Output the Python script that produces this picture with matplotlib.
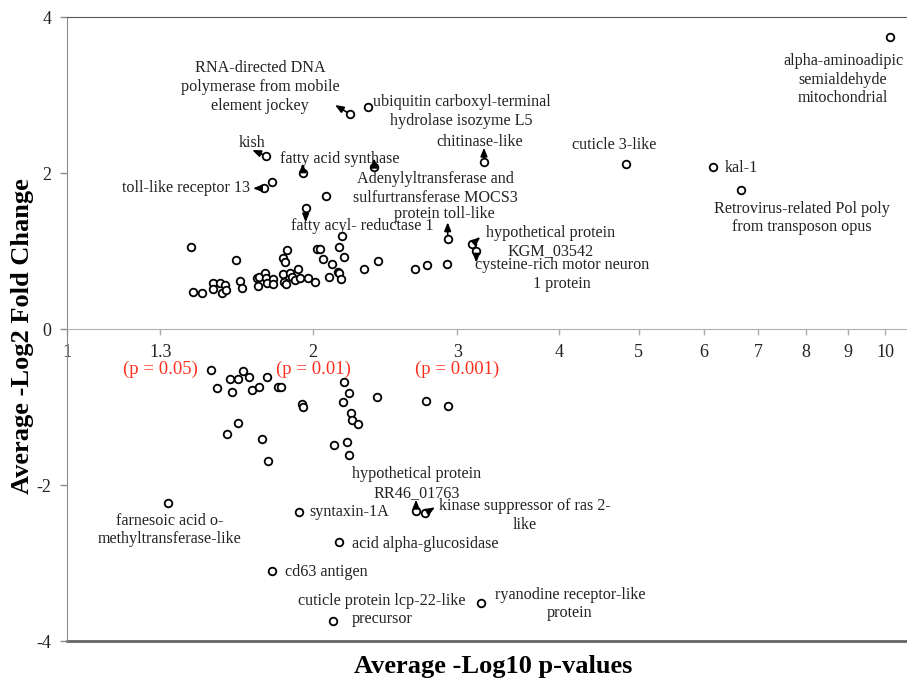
import numpy as np
import matplotlib
matplotlib.use("Agg")
import matplotlib.pyplot as plt

# unlabeled genes, up-regulated (avg -log10 p, avg -log2 fold change)
up_p = [1.417, 1.609, 1.427, 1.461, 1.510, 1.510, 1.538, 1.546, 1.560, 1.563,
        1.627, 1.635, 1.706, 1.718, 1.748, 1.751, 1.713, 1.754, 1.784, 1.787,
        1.838, 1.847, 1.859, 1.838, 1.844, 1.852, 1.874, 1.882, 1.900, 1.918,
        1.927, 1.972, 2.010, 2.020, 2.038, 2.058, 2.107, 2.093, 2.146, 2.151,
        2.163, 2.151, 2.183, 2.167, 2.307, 2.400, 2.667, 2.751, 2.915, 2.073,
        1.782]
up_fc = [1.055, 0.885, 0.478, 0.458, 0.586, 0.509, 0.594, 0.465, 0.564, 0.500,
         0.615, 0.522, 0.650, 0.671, 0.714, 0.658, 0.551, 0.586, 0.637, 0.577,
         0.906, 0.853, 1.013, 0.701, 0.606, 0.573, 0.714, 0.673, 0.628, 0.765,
         0.650, 0.658, 0.606, 1.026, 1.022, 0.894, 0.833, 0.671, 0.735, 0.712,
         0.637, 1.055, 0.927, 1.192, 0.765, 0.876, 0.765, 0.817, 0.833, 1.709,
         1.888]

# unlabeled genes, down-regulated
down_p = [1.500, 1.524, 1.582, 1.617, 1.641, 1.669, 1.589, 1.685, 1.717, 1.754,
          1.813, 1.825, 1.938, 1.945, 2.183, 2.214, 2.177, 2.222, 2.232, 2.267,
          2.393, 2.747, 2.923, 1.618, 1.568, 1.730, 1.759, 2.119, 2.198, 2.214]
down_fc = [-0.526, -0.760, -0.641, -0.641, -0.538, -0.619, -0.812, -0.786, -0.744, -0.619,
           -0.740, -0.747, -0.962, -0.996, -0.676, -0.824, -0.940, -1.081, -1.167, -1.222,
           -0.868, -0.927, -0.991, -1.201, -1.346, -1.414, -1.688, -1.487, -1.449, -1.615]

# named genes
names = [
    "RNA-directed DNA\npolymerase from mobile\nelement jockey",
    "ubiquitin carboxyl-terminal\nhydrolase isozyme L5",
    "kish",
    "fatty acid synthase",
    "toll-like receptor 13",
    "fatty acyl- reductase 1",
    "Adenylyltransferase and\nsulfurtransferase MOCS3",
    "protein toll-like",
    "chitinase-like",
    "hypothetical protein\nKGM_03542",
    "cysteine-rich motor neuron\n1 protein",
    "cuticle 3-like",
    "kal-1",
    "Retrovirus-related Pol poly\nfrom transposon opus",
    "alpha-aminoadipic\nsemialdehyde\nmitochondrial",
    "farnesoic acid o-\nmethyltransferase-like",
    "syntaxin-1A",
    "hypothetical protein\nRR46_01763",
    "kinase suppressor of ras 2-\nlike",
    "acid alpha-glucosidase",
    "cd63 antigen",
    "cuticle protein lcp-22-like\nprecursor",
    "ryanodine receptor-like\nprotein",
]
named_p = [2.218, 2.331, 1.752, 1.942, 1.741, 1.958, 2.375, 2.920, 3.234, 3.130,
           3.165, 4.819, 6.157, 6.673, 10.14, 1.329, 1.921, 2.671, 2.739, 2.151,
           1.781, 2.114, 3.207]
named_fc = [2.756, 2.842, 2.218, 1.996, 1.804, 1.547, 2.081, 1.150, 2.145, 1.090,
            1.004, 2.115, 2.081, 1.782, 3.747, -2.231, -2.346, -2.329, -2.363, -2.731,
            -3.103, -3.744, -3.513]

x_ticks = [1, 1.3, 2, 3, 4, 5, 6, 7, 8, 9, 10]
x_tick_labels = ["1", "1.3", "2", "3", "4", "5", "6", "7", "8", "9", "10"]
y_ticks = [-4, -2, 0, 2, 4]
p_marks = [1.3, 2, 3]
p_mark_labels = ["(p = 0.05)", "(p = 0.01)", "(p = 0.001)"]

# label placement: offset in pixels from the point (dx, dy, ha)
label_pos = {
    0: (-90, 27, "center"), 1: (94, -4, "center"), 2: (-14, 13, "center"),
    3: (37, 14, "center"), 4: (-14, 0, "right"), 5: (57, -18, "center"),
    6: (61, -22, "center"), 7: (-3, 25, "center"), 8: (-4, 20, "center"),
    9: (78, 2, "center"), 10: (86, -24, "center"), 11: (-11, 19, "center"),
    12: (12, -1, "left"), 13: (61, -28, "center"), 14: (-47, -43, "center"),
    15: (2, -27, "center"), 16: (10, 0, "left"), 17: (1, 27, "center"),
    18: (100, -2, "center"), 19: (13, -2, "left"), 20: (13, -1, "left"),
    21: (49, 11, "center"), 22: (89, -1, "center"),
}
# short arrow stubs (tip offset in pixels)
arrows = {0: (-15, 9), 2: (-14, 6), 4: (-11, 0), 3: (0, 10), 5: (0, -14),
          6: (0, 8), 8: (0, 14), 7: (0, 17), 9: (8, 7), 10: (0, -12),
          17: (0, 11), 18: (10, 6)}

plt.rcParams['font.family'] = ['Liberation Serif', 'DejaVu Serif']

fig = plt.figure(figsize=(9.07, 6.83), dpi=100)
ax = fig.add_axes([67 / 907, 42 / 683, 840 / 907, 624 / 683])

ax.set_xscale('log')
ax.set_xlim(1, 10 ** (840 / 818))
ax.set_ylim(-4, 4)

gray = '#8c8c8c'
ax.spines['right'].set_visible(False)
ax.spines['top'].set_color('#555555')
ax.spines['left'].set_color(gray)
ax.spines['bottom'].set_position(('data', 0))
ax.spines['bottom'].set_color('#b0b0b0')
ax.axhline(-4, color='#666666', lw=2, clip_on=False, zorder=1)

ax.set_xticks(x_ticks)
ax.set_xticklabels(x_tick_labels)
ax.xaxis.set_minor_locator(matplotlib.ticker.NullLocator())
ax.set_yticks(y_ticks)
ax.set_yticklabels([str(v) for v in y_ticks])
ax.tick_params(axis='x', direction='out', length=4, width=1, color='#b0b0b0',
               pad=7, labelsize=13, labelcolor='#222222')
ax.tick_params(axis='y', direction='out', length=5, width=1, color=gray,
               pad=6, labelsize=13, labelcolor='#222222')

for xm, lab in zip(p_marks, p_mark_labels):
    ax.text(xm, -0.513, lab, color='#ff3020', fontsize=13.5, ha='center', va='center')

mk = dict(s=30, facecolors='white', edgecolors='black', linewidths=1.3, zorder=3)
ax.scatter(up_p, up_fc, **mk)
ax.scatter(down_p, down_fc, **mk)
ax.scatter(named_p, named_fc, **mk)

for i, name in enumerate(names):
    dx, dy, ha = label_pos[i]
    ax.annotate(name, (named_p[i], named_fc[i]), xytext=(dx, dy),
                textcoords='offset pixels', ha=ha, va='center',
                multialignment='center', fontsize=11.6, color='#222222',
                linespacing=1.22)
for i, (dx, dy) in arrows.items():
    ax.annotate('', (named_p[i], named_fc[i]), xytext=(dx, dy),
                textcoords='offset pixels',
                arrowprops=dict(arrowstyle='<|-,head_length=0.5,head_width=0.2',
                                color='black', lw=1.2, shrinkA=0, shrinkB=3))

fig.text(493 / 907, 1 - 667 / 683, "Average -Log10 p-values", ha='center', va='center',
         fontsize=19, fontweight='bold')
fig.text(23 / 907, 1 - 336 / 683, "Average -Log2 Fold Change", ha='center', va='center',
         rotation=90, fontsize=19, fontweight='bold')

fig.savefig('out.png', dpi=100)
